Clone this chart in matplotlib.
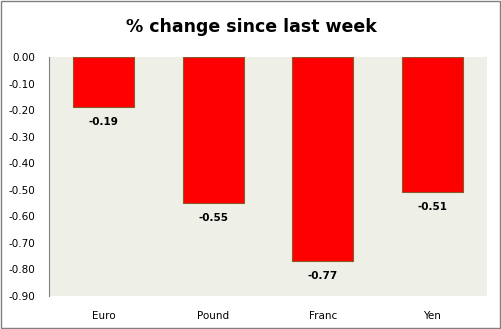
import matplotlib
matplotlib.use("Agg")
import matplotlib.pyplot as plt
import numpy as np
from matplotlib.patches import Rectangle

CATEGORIES = ["Euro", "Pound", "Franc", "Yen"]
CHANGES = [-0.19, -0.55, -0.77, -0.51]
Y_TICKS = [0.0, -0.1, -0.2, -0.3, -0.4, -0.5, -0.6, -0.7, -0.8, -0.9]

BG = "#EEF0E8"
BAR_RED = "#FF0000"
BAR_EDGE = "#8B5A2B"

fig = plt.figure(figsize=(5.02, 3.29), dpi=100)
ax = fig.add_axes([49 / 502, 1 - 296 / 329, (487 - 49) / 502, (296 - 57) / 329])
ax.set_facecolor(BG)

x = np.arange(len(CATEGORIES))
bars = ax.bar(x, CHANGES, width=0.56, color=BAR_RED, edgecolor=BAR_EDGE, linewidth=0.8)
for b, v in zip(bars, CHANGES):
    ax.annotate(f"{v:.2f}", (b.get_x() + b.get_width() / 2, v),
                xytext=(0, -7), textcoords="offset points",
                ha="center", va="top", fontsize=7.5, fontweight="bold", color="black")

ax.set_xlim(-0.5, len(CATEGORIES) - 0.5)
ax.set_ylim(-0.9, 0)
ax.set_yticks(Y_TICKS)
ax.set_yticklabels([f"{t:.2f}" for t in Y_TICKS])
ax.set_xticks(x)
ax.set_xticklabels(CATEGORIES)
ax.tick_params(axis="y", length=0, pad=10, labelsize=7.5)
ax.tick_params(axis="x", length=0, pad=11, labelsize=7.5)

for spine in ("top", "right", "bottom"):
    ax.spines[spine].set_visible(False)
ax.spines["left"].set_color("#808080")
ax.spines["left"].set_linewidth(0.8)

fig.text(0.5, 1 - 27 / 329, "% change since last week", ha="center", va="center",
         fontsize=12.5, fontweight="bold")

fig.patches.append(Rectangle((0.002, 0.003), 0.995, 0.994, transform=fig.transFigure,
                             fill=False, edgecolor="#808080", linewidth=1.0))

fig.savefig("out.png", dpi=100)
